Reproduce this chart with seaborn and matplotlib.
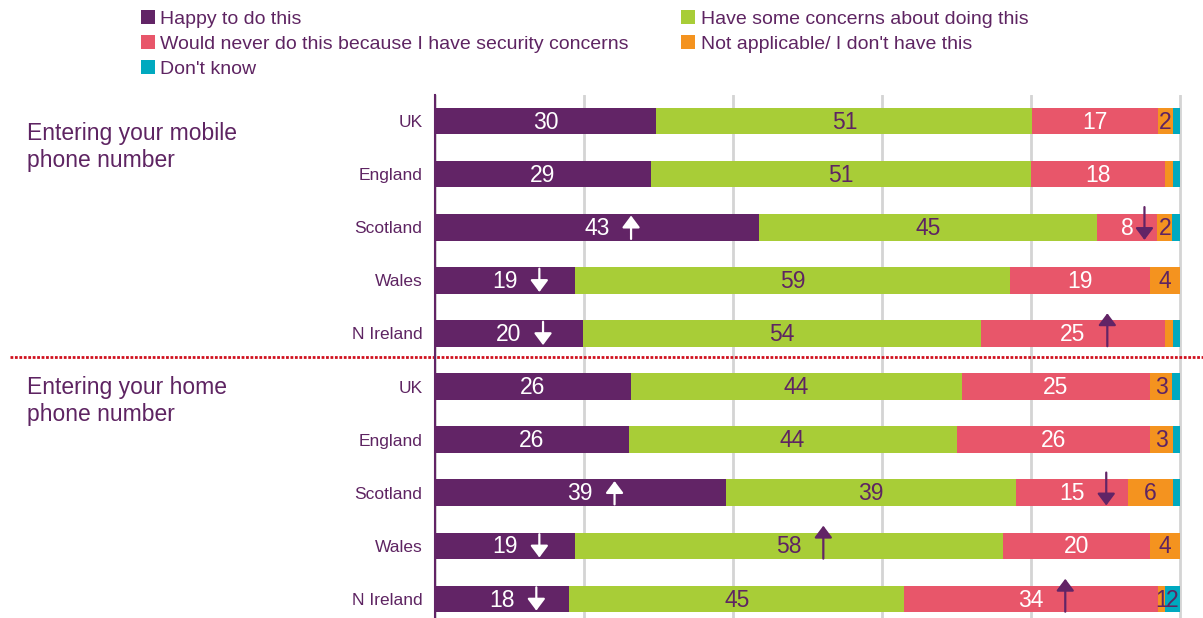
import numpy as np
import pandas as pd
import matplotlib
matplotlib.use("Agg")
import matplotlib.pyplot as plt
import matplotlib.transforms as mtransforms
from matplotlib.patches import Patch
import seaborn as sns

# ---- data -------------------------------------------------------------
groups = ["Entering your mobile\nphone number", "Entering your home\nphone number"]
nations = ["UK", "England", "Scotland", "Wales", "N Ireland"]

series = ["Happy to do this",
          "Have some concerns about doing this",
          "Would never do this because I have security concerns",
          "Not applicable/ I don't have this",
          "Don't know"]

happy    = [30, 29, 43, 19, 20, 26, 26, 39, 19, 18]
concerns = [51, 51, 45, 59, 54, 44, 44, 39, 58, 45]
never    = [17, 18,  8, 19, 25, 25, 26, 15, 20, 34]
not_appl = [ 2,  1,  2,  4,  1,  3,  3,  6,  4,  1]
dont_know = [1,  1,  1,  0,  1,  1,  1,  1,  0,  2]

# which of the two small segments carry a value label
not_appl_labelled  = [True, False, True, True, False, True, True, True, True, True]
dont_know_labelled = [False, False, False, False, False, False, False, False, False, True]

# significance arrows: (row, segment, direction)
arrows = [(2, 0, "up"), (2, 2, "down"), (3, 0, "down"), (4, 0, "down"), (4, 2, "up"),
          (7, 0, "up"), (7, 2, "down"), (8, 0, "down"), (8, 1, "up"),
          (9, 0, "down"), (9, 2, "up")]

# ---- styling ----------------------------------------------------------
PURPLE = "#622466"
TEXT = "#5E2462"
colors = ["#622466", "#A8CD37", "#E8566A", "#F4931F", "#00A9BF"]
label_colors = ["white", TEXT, "white", TEXT, TEXT]

sns.set_theme(style="white")
plt.rcParams["font.family"] = ["Liberation Sans", "DejaVu Sans"]

values = np.array([happy, concerns, never, not_appl, dont_know], dtype=float)
# 100% stacked: each row is scaled to its own total
shares = values / values.sum(axis=0) * 100
rows = [f"{g.split()[2]}|{n}" for g in groups for n in nations]
df = pd.DataFrame({"row": rows})
cum = np.cumsum(shares, axis=0)
for k in range(len(series)):
    df[f"cum{k}"] = cum[k]

W, H = 1203, 618
fig = plt.figure(figsize=(W / 100, H / 100), dpi=100)

x0_px, x100_px = 435, 1180
xmax = 101.5
px_per_unit = (x100_px - x0_px) / 100
top_px, row_px = 94.5, 53.1
bottom_px = top_px + row_px * len(rows)
ax = fig.add_axes([x0_px / W, 1 - bottom_px / H,
                   xmax * px_per_unit / W, (bottom_px - top_px) / H])

# stacked bars: draw cumulative totals from the outermost segment inwards
for k in reversed(range(len(series))):
    sns.barplot(data=df, x=f"cum{k}", y="row", order=rows, orient="h",
                color=colors[k], saturation=1, width=0.5, linewidth=0, ax=ax)

ax.set_xlim(0, xmax)
ax.set_ylim(len(rows) - 0.5, -0.5)
ax.set_xlabel("")
ax.set_ylabel("")
ax.set_xticks([0, 20, 40, 60, 80, 100])
ax.set_xticklabels([])
ax.tick_params(axis="x", length=0)
ax.xaxis.grid(True, color="#D4D4D4", linewidth=2)
ax.set_axisbelow(True)

ax.set_yticks(range(len(rows)))
ax.set_yticklabels(nations * len(groups), fontsize=12.5, color=TEXT)
ax.tick_params(axis="y", which="major", length=0, pad=9)
ax.set_yticks(np.arange(-0.5, len(rows), 1.0), minor=True)
ax.tick_params(axis="y", which="minor", length=6, width=1.2, color=PURPLE, direction="out")

for side in ["top", "right", "bottom"]:
    ax.spines[side].set_visible(False)
ax.spines["left"].set_color(PURPLE)
ax.spines["left"].set_linewidth(1.5)

# value labels
starts = cum - shares
for i in range(len(rows)):
    for k in range(len(series)):
        v = values[k, i]
        if v <= 0:
            continue
        if k == 3 and not not_appl_labelled[i]:
            continue
        if k == 4 and not dont_know_labelled[i]:
            continue
        ax.text(starts[k, i] + shares[k, i] / 2, i + 0.02, f"{v:.0f}",
                ha="center", va="center", fontsize=16.5, color=label_colors[k])

# significance arrows beside the labels
for i, k, d in arrows:
    v = values[k, i]
    digits = len(f"{v:.0f}")
    x = starts[k, i] + shares[k, i] / 2 + 2.3 * digits
    col = "white" if k == 0 else PURPLE
    if k == 0:
        top, bot = -0.22, 0.22
    else:
        top, bot = -0.38, 0.24
    tip, tail = (top, bot) if d == "up" else (bot, top)
    ax.annotate("", xy=(x, i + tip), xytext=(x, i + tail),
                arrowprops=dict(arrowstyle="-|>,head_length=0.36,head_width=0.27",
                                color=col, lw=1.6, shrinkA=0, shrinkB=0,
                                mutation_scale=20))

# dotted separator between the two question groups
trans = mtransforms.blended_transform_factory(fig.transFigure, ax.transData)
ax.plot([10 / W, 1.0], [4.45, 4.45], transform=trans, color="#D0101E",
        linestyle=(0, (1, 0.6)), linewidth=2, clip_on=False)

# group titles
fig.text(27 / W, 1 - 147 / H, groups[0], ha="left", va="center",
         fontsize=16.5, color=TEXT, linespacing=1.25)
fig.text(27 / W, 1 - 401 / H, groups[1], ha="left", va="center",
         fontsize=16.5, color=TEXT, linespacing=1.25)

# legend
order = [0, 2, 4, 1, 3]
handles = [Patch(facecolor=colors[k], edgecolor="none") for k in order]
fig.legend(handles, [series[k] for k in order], ncol=2, loc="upper left",
           bbox_to_anchor=(141 / W, 1 - 10 / H), frameon=False, fontsize=14,
           handlelength=0.7, handleheight=0.7, handletextpad=0.3,
           columnspacing=2.7, labelspacing=0.38, borderpad=0, borderaxespad=0,
           labelcolor=TEXT)

fig.savefig("out.png", dpi=100)
